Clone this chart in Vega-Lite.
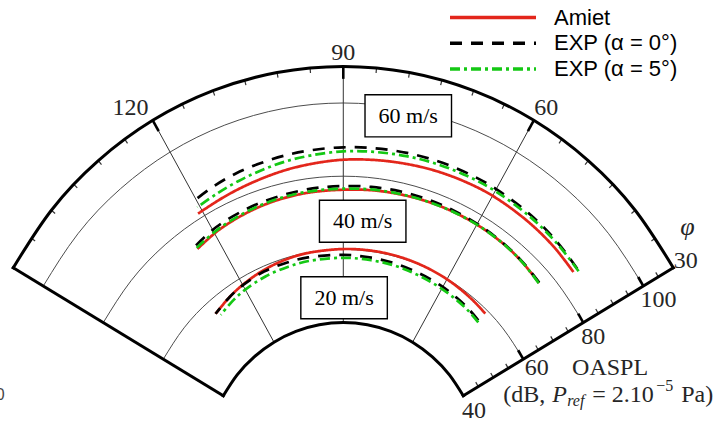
{
  "$schema": "https://vega.github.io/schema/vega-lite/v6.json",
  "width": 727,
  "height": 426,
  "autosize": {"type": "none"},
  "padding": 0,
  "background": "white",
  "config": {
    "view": {"stroke": null},
    "legend": {
      "orient": "none",
      "legendX": 448,
      "legendY": 6.5,
      "symbolType": "stroke",
      "symbolSize": 7400,
      "symbolStrokeWidth": 3.5,
      "clipHeight": 22,
      "labelFont": "Liberation Sans",
      "labelFontSize": 22,
      "labelColor": "#000000",
      "labelOffset": 16,
      "rowPadding": 3.7,
      "padding": 0,
      "labelLimit": 400
    }
  },
  "datasets": {
    "grid": [
      {"g": "r60", "kind": "ring", "phi": 30, "db": 60}, {"g": "r60", "kind": "ring", "phi": 40, "db": 60}, {"g": "r60", "kind": "ring", "phi": 50, "db": 60}, {"g": "r60", "kind": "ring", "phi": 60, "db": 60}, {"g": "r60", "kind": "ring", "phi": 70, "db": 60}, {"g": "r60", "kind": "ring", "phi": 80, "db": 60}, {"g": "r60", "kind": "ring", "phi": 90, "db": 60}, {"g": "r60", "kind": "ring", "phi": 100, "db": 60}, {"g": "r60", "kind": "ring", "phi": 110, "db": 60}, {"g": "r60", "kind": "ring", "phi": 120, "db": 60}, {"g": "r60", "kind": "ring", "phi": 130, "db": 60}, {"g": "r60", "kind": "ring", "phi": 140, "db": 60}, {"g": "r60", "kind": "ring", "phi": 150, "db": 60},
      {"g": "r80", "kind": "ring", "phi": 30, "db": 80}, {"g": "r80", "kind": "ring", "phi": 40, "db": 80}, {"g": "r80", "kind": "ring", "phi": 50, "db": 80}, {"g": "r80", "kind": "ring", "phi": 60, "db": 80}, {"g": "r80", "kind": "ring", "phi": 70, "db": 80}, {"g": "r80", "kind": "ring", "phi": 80, "db": 80}, {"g": "r80", "kind": "ring", "phi": 90, "db": 80}, {"g": "r80", "kind": "ring", "phi": 100, "db": 80}, {"g": "r80", "kind": "ring", "phi": 110, "db": 80}, {"g": "r80", "kind": "ring", "phi": 120, "db": 80}, {"g": "r80", "kind": "ring", "phi": 130, "db": 80}, {"g": "r80", "kind": "ring", "phi": 140, "db": 80}, {"g": "r80", "kind": "ring", "phi": 150, "db": 80},
      {"g": "r100", "kind": "ring", "phi": 30, "db": 100}, {"g": "r100", "kind": "ring", "phi": 40, "db": 100}, {"g": "r100", "kind": "ring", "phi": 50, "db": 100}, {"g": "r100", "kind": "ring", "phi": 60, "db": 100}, {"g": "r100", "kind": "ring", "phi": 70, "db": 100}, {"g": "r100", "kind": "ring", "phi": 80, "db": 100}, {"g": "r100", "kind": "ring", "phi": 90, "db": 100}, {"g": "r100", "kind": "ring", "phi": 100, "db": 100}, {"g": "r100", "kind": "ring", "phi": 110, "db": 100}, {"g": "r100", "kind": "ring", "phi": 120, "db": 100}, {"g": "r100", "kind": "ring", "phi": 130, "db": 100}, {"g": "r100", "kind": "ring", "phi": 140, "db": 100}, {"g": "r100", "kind": "ring", "phi": 150, "db": 100},
      {"g": "f40", "kind": "frame", "phi": 30, "db": 40}, {"g": "f40", "kind": "frame", "phi": 40, "db": 40}, {"g": "f40", "kind": "frame", "phi": 50, "db": 40}, {"g": "f40", "kind": "frame", "phi": 60, "db": 40}, {"g": "f40", "kind": "frame", "phi": 70, "db": 40}, {"g": "f40", "kind": "frame", "phi": 80, "db": 40}, {"g": "f40", "kind": "frame", "phi": 90, "db": 40}, {"g": "f40", "kind": "frame", "phi": 100, "db": 40}, {"g": "f40", "kind": "frame", "phi": 110, "db": 40}, {"g": "f40", "kind": "frame", "phi": 120, "db": 40}, {"g": "f40", "kind": "frame", "phi": 130, "db": 40}, {"g": "f40", "kind": "frame", "phi": 140, "db": 40}, {"g": "f40", "kind": "frame", "phi": 150, "db": 40},
      {"g": "f110", "kind": "frame", "phi": 30, "db": 110}, {"g": "f110", "kind": "frame", "phi": 40, "db": 110}, {"g": "f110", "kind": "frame", "phi": 50, "db": 110}, {"g": "f110", "kind": "frame", "phi": 60, "db": 110}, {"g": "f110", "kind": "frame", "phi": 70, "db": 110}, {"g": "f110", "kind": "frame", "phi": 80, "db": 110}, {"g": "f110", "kind": "frame", "phi": 90, "db": 110}, {"g": "f110", "kind": "frame", "phi": 100, "db": 110}, {"g": "f110", "kind": "frame", "phi": 110, "db": 110}, {"g": "f110", "kind": "frame", "phi": 120, "db": 110}, {"g": "f110", "kind": "frame", "phi": 130, "db": 110}, {"g": "f110", "kind": "frame", "phi": 140, "db": 110}, {"g": "f110", "kind": "frame", "phi": 150, "db": 110},
      {"g": "e30", "kind": "frame", "phi": 30, "db": 40}, {"g": "e30", "kind": "frame", "phi": 30, "db": 110},
      {"g": "e150", "kind": "frame", "phi": 150, "db": 40}, {"g": "e150", "kind": "frame", "phi": 150, "db": 110},
      {"g": "s60", "kind": "spoke", "phi": 60, "db": 40}, {"g": "s60", "kind": "spoke", "phi": 60, "db": 110},
      {"g": "s90", "kind": "spoke", "phi": 90, "db": 40}, {"g": "s90", "kind": "spoke", "phi": 90, "db": 110},
      {"g": "s120", "kind": "spoke", "phi": 120, "db": 40}, {"g": "s120", "kind": "spoke", "phi": 120, "db": 110},
      {"g": "t35", "kind": "tick", "phi": 35, "db": 110}, {"g": "t35", "kind": "tick", "phi": 35, "db": 108.6},
      {"g": "t40", "kind": "tick", "phi": 40, "db": 110}, {"g": "t40", "kind": "tick", "phi": 40, "db": 108.6},
      {"g": "t45", "kind": "tick", "phi": 45, "db": 110}, {"g": "t45", "kind": "tick", "phi": 45, "db": 108.6},
      {"g": "t50", "kind": "tick", "phi": 50, "db": 110}, {"g": "t50", "kind": "tick", "phi": 50, "db": 108.6},
      {"g": "t55", "kind": "tick", "phi": 55, "db": 110}, {"g": "t55", "kind": "tick", "phi": 55, "db": 108.6},
      {"g": "t65", "kind": "tick", "phi": 65, "db": 110}, {"g": "t65", "kind": "tick", "phi": 65, "db": 108.6},
      {"g": "t70", "kind": "tick", "phi": 70, "db": 110}, {"g": "t70", "kind": "tick", "phi": 70, "db": 108.6},
      {"g": "t75", "kind": "tick", "phi": 75, "db": 110}, {"g": "t75", "kind": "tick", "phi": 75, "db": 108.6},
      {"g": "t80", "kind": "tick", "phi": 80, "db": 110}, {"g": "t80", "kind": "tick", "phi": 80, "db": 108.6},
      {"g": "t85", "kind": "tick", "phi": 85, "db": 110}, {"g": "t85", "kind": "tick", "phi": 85, "db": 108.6},
      {"g": "t95", "kind": "tick", "phi": 95, "db": 110}, {"g": "t95", "kind": "tick", "phi": 95, "db": 108.6},
      {"g": "t100", "kind": "tick", "phi": 100, "db": 110}, {"g": "t100", "kind": "tick", "phi": 100, "db": 108.6},
      {"g": "t105", "kind": "tick", "phi": 105, "db": 110}, {"g": "t105", "kind": "tick", "phi": 105, "db": 108.6},
      {"g": "t110", "kind": "tick", "phi": 110, "db": 110}, {"g": "t110", "kind": "tick", "phi": 110, "db": 108.6},
      {"g": "t115", "kind": "tick", "phi": 115, "db": 110}, {"g": "t115", "kind": "tick", "phi": 115, "db": 108.6},
      {"g": "t125", "kind": "tick", "phi": 125, "db": 110}, {"g": "t125", "kind": "tick", "phi": 125, "db": 108.6},
      {"g": "t130", "kind": "tick", "phi": 130, "db": 110}, {"g": "t130", "kind": "tick", "phi": 130, "db": 108.6},
      {"g": "t135", "kind": "tick", "phi": 135, "db": 110}, {"g": "t135", "kind": "tick", "phi": 135, "db": 108.6},
      {"g": "t140", "kind": "tick", "phi": 140, "db": 110}, {"g": "t140", "kind": "tick", "phi": 140, "db": 108.6},
      {"g": "t145", "kind": "tick", "phi": 145, "db": 110}, {"g": "t145", "kind": "tick", "phi": 145, "db": 108.6},
      {"g": "m60", "kind": "mtick", "phi": 60, "db": 110}, {"g": "m60", "kind": "mtick", "phi": 60, "db": 106.6},
      {"g": "m90", "kind": "mtick", "phi": 90, "db": 110}, {"g": "m90", "kind": "mtick", "phi": 90, "db": 106.6},
      {"g": "m120", "kind": "mtick", "phi": 120, "db": 110}, {"g": "m120", "kind": "mtick", "phi": 120, "db": 106.6},
      {"g": "d45", "kind": "tick", "phi": 30, "db": 45}, {"g": "d45", "kind": "tick", "phi": 31.82, "db": 45},
      {"g": "d50", "kind": "tick", "phi": 30, "db": 50}, {"g": "d50", "kind": "tick", "phi": 31.64, "db": 50},
      {"g": "d55", "kind": "tick", "phi": 30, "db": 55}, {"g": "d55", "kind": "tick", "phi": 31.49, "db": 55},
      {"g": "d65", "kind": "tick", "phi": 30, "db": 65}, {"g": "d65", "kind": "tick", "phi": 31.26, "db": 65},
      {"g": "d70", "kind": "tick", "phi": 30, "db": 70}, {"g": "d70", "kind": "tick", "phi": 31.17, "db": 70},
      {"g": "d75", "kind": "tick", "phi": 30, "db": 75}, {"g": "d75", "kind": "tick", "phi": 31.09, "db": 75},
      {"g": "d85", "kind": "tick", "phi": 30, "db": 85}, {"g": "d85", "kind": "tick", "phi": 30.96, "db": 85},
      {"g": "d90", "kind": "tick", "phi": 30, "db": 90}, {"g": "d90", "kind": "tick", "phi": 30.91, "db": 90},
      {"g": "d95", "kind": "tick", "phi": 30, "db": 95}, {"g": "d95", "kind": "tick", "phi": 30.86, "db": 95},
      {"g": "d105", "kind": "tick", "phi": 30, "db": 105}, {"g": "d105", "kind": "tick", "phi": 30.78, "db": 105},
      {"g": "D60", "kind": "mtick", "phi": 30, "db": 60}, {"g": "D60", "kind": "mtick", "phi": 32.73, "db": 60},
      {"g": "D80", "kind": "mtick", "phi": 30, "db": 80}, {"g": "D80", "kind": "mtick", "phi": 32.05, "db": 80},
      {"g": "D100", "kind": "mtick", "phi": 30, "db": 100}, {"g": "D100", "kind": "mtick", "phi": 31.64, "db": 100}
    ],
    "curves": [
      {"series": "Amiet", "speed": 60, "phi": 121, "db": 81.4}, {"series": "Amiet", "speed": 60, "phi": 115, "db": 81.9}, {"series": "Amiet", "speed": 60, "phi": 109, "db": 82.5}, {"series": "Amiet", "speed": 60, "phi": 102, "db": 83.3}, {"series": "Amiet", "speed": 60, "phi": 96, "db": 83.9}, {"series": "Amiet", "speed": 60, "phi": 90, "db": 84.5}, {"series": "Amiet", "speed": 60, "phi": 84, "db": 84.9}, {"series": "Amiet", "speed": 60, "phi": 78, "db": 85.3}, {"series": "Amiet", "speed": 60, "phi": 72, "db": 85.7}, {"series": "Amiet", "speed": 60, "phi": 66, "db": 86.0}, {"series": "Amiet", "speed": 60, "phi": 60, "db": 86.2}, {"series": "Amiet", "speed": 60, "phi": 52, "db": 86.1}, {"series": "Amiet", "speed": 60, "phi": 45, "db": 85.9}, {"series": "Amiet", "speed": 60, "phi": 39, "db": 85.5},
      {"series": "Amiet", "speed": 40, "phi": 125, "db": 73.4}, {"series": "Amiet", "speed": 40, "phi": 119, "db": 74.5}, {"series": "Amiet", "speed": 40, "phi": 112, "db": 75.3}, {"series": "Amiet", "speed": 40, "phi": 106, "db": 75.8}, {"series": "Amiet", "speed": 40, "phi": 100, "db": 76.1}, {"series": "Amiet", "speed": 40, "phi": 95, "db": 76.2}, {"series": "Amiet", "speed": 40, "phi": 90, "db": 76.3}, {"series": "Amiet", "speed": 40, "phi": 84, "db": 76.6}, {"series": "Amiet", "speed": 40, "phi": 78, "db": 76.8}, {"series": "Amiet", "speed": 40, "phi": 72, "db": 77.0}, {"series": "Amiet", "speed": 40, "phi": 66, "db": 77.1}, {"series": "Amiet", "speed": 40, "phi": 59, "db": 77.1}, {"series": "Amiet", "speed": 40, "phi": 52, "db": 76.9}, {"series": "Amiet", "speed": 40, "phi": 47, "db": 76.5}, {"series": "Amiet", "speed": 40, "phi": 42, "db": 76.0},
      {"series": "Amiet", "speed": 20, "phi": 131, "db": 56.2}, {"series": "Amiet", "speed": 20, "phi": 125, "db": 57.3}, {"series": "Amiet", "speed": 20, "phi": 120, "db": 58.1}, {"series": "Amiet", "speed": 20, "phi": 113, "db": 59.0}, {"series": "Amiet", "speed": 20, "phi": 106, "db": 59.6}, {"series": "Amiet", "speed": 20, "phi": 100, "db": 59.9}, {"series": "Amiet", "speed": 20, "phi": 90, "db": 60.1}, {"series": "Amiet", "speed": 20, "phi": 82, "db": 60.2}, {"series": "Amiet", "speed": 20, "phi": 75, "db": 60.2}, {"series": "Amiet", "speed": 20, "phi": 68, "db": 60.1}, {"series": "Amiet", "speed": 20, "phi": 61, "db": 59.9}, {"series": "Amiet", "speed": 20, "phi": 55, "db": 59.6}, {"series": "Amiet", "speed": 20, "phi": 50, "db": 59.3}, {"series": "Amiet", "speed": 20, "phi": 46, "db": 59.0},
      {"series": "EXP (α = 0°)", "speed": 60, "phi": 120.5, "db": 85.0}, {"series": "EXP (α = 0°)", "speed": 60, "phi": 116, "db": 85.8}, {"series": "EXP (α = 0°)", "speed": 60, "phi": 111, "db": 86.5}, {"series": "EXP (α = 0°)", "speed": 60, "phi": 106, "db": 86.9}, {"series": "EXP (α = 0°)", "speed": 60, "phi": 101, "db": 87.3}, {"series": "EXP (α = 0°)", "speed": 60, "phi": 96, "db": 87.6}, {"series": "EXP (α = 0°)", "speed": 60, "phi": 90, "db": 87.9}, {"series": "EXP (α = 0°)", "speed": 60, "phi": 84, "db": 88.1}, {"series": "EXP (α = 0°)", "speed": 60, "phi": 78, "db": 88.3}, {"series": "EXP (α = 0°)", "speed": 60, "phi": 72, "db": 88.4}, {"series": "EXP (α = 0°)", "speed": 60, "phi": 66, "db": 88.4}, {"series": "EXP (α = 0°)", "speed": 60, "phi": 60, "db": 88.3}, {"series": "EXP (α = 0°)", "speed": 60, "phi": 52, "db": 88.0}, {"series": "EXP (α = 0°)", "speed": 60, "phi": 45, "db": 87.5}, {"series": "EXP (α = 0°)", "speed": 60, "phi": 39, "db": 86.9},
      {"series": "EXP (α = 0°)", "speed": 40, "phi": 125.5, "db": 74.3}, {"series": "EXP (α = 0°)", "speed": 40, "phi": 119, "db": 75.6}, {"series": "EXP (α = 0°)", "speed": 40, "phi": 112, "db": 76.3}, {"series": "EXP (α = 0°)", "speed": 40, "phi": 106, "db": 76.7}, {"series": "EXP (α = 0°)", "speed": 40, "phi": 100, "db": 77.0}, {"series": "EXP (α = 0°)", "speed": 40, "phi": 95, "db": 77.2}, {"series": "EXP (α = 0°)", "speed": 40, "phi": 90, "db": 77.3}, {"series": "EXP (α = 0°)", "speed": 40, "phi": 84, "db": 77.5}, {"series": "EXP (α = 0°)", "speed": 40, "phi": 78, "db": 77.6}, {"series": "EXP (α = 0°)", "speed": 40, "phi": 72, "db": 77.6}, {"series": "EXP (α = 0°)", "speed": 40, "phi": 66, "db": 77.5}, {"series": "EXP (α = 0°)", "speed": 40, "phi": 59, "db": 77.3}, {"series": "EXP (α = 0°)", "speed": 40, "phi": 52, "db": 77.0}, {"series": "EXP (α = 0°)", "speed": 40, "phi": 47, "db": 76.6}, {"series": "EXP (α = 0°)", "speed": 40, "phi": 42, "db": 76.1},
      {"series": "EXP (α = 0°)", "speed": 20, "phi": 131, "db": 56.2}, {"series": "EXP (α = 0°)", "speed": 20, "phi": 125, "db": 57.3}, {"series": "EXP (α = 0°)", "speed": 20, "phi": 120, "db": 58.0}, {"series": "EXP (α = 0°)", "speed": 20, "phi": 113, "db": 58.6}, {"series": "EXP (α = 0°)", "speed": 20, "phi": 106, "db": 58.7}, {"series": "EXP (α = 0°)", "speed": 20, "phi": 100, "db": 58.7}, {"series": "EXP (α = 0°)", "speed": 20, "phi": 90, "db": 58.5}, {"series": "EXP (α = 0°)", "speed": 20, "phi": 82, "db": 58.3}, {"series": "EXP (α = 0°)", "speed": 20, "phi": 75, "db": 58.1}, {"series": "EXP (α = 0°)", "speed": 20, "phi": 68, "db": 57.8}, {"series": "EXP (α = 0°)", "speed": 20, "phi": 61, "db": 57.5}, {"series": "EXP (α = 0°)", "speed": 20, "phi": 55, "db": 57.1}, {"series": "EXP (α = 0°)", "speed": 20, "phi": 50, "db": 56.7}, {"series": "EXP (α = 0°)", "speed": 20, "phi": 46.2, "db": 56.3},
      {"series": "EXP (α = 5°)", "speed": 60, "phi": 120.5, "db": 83.0}, {"series": "EXP (α = 5°)", "speed": 60, "phi": 116, "db": 83.6}, {"series": "EXP (α = 5°)", "speed": 60, "phi": 111, "db": 84.3}, {"series": "EXP (α = 5°)", "speed": 60, "phi": 106, "db": 85.0}, {"series": "EXP (α = 5°)", "speed": 60, "phi": 101, "db": 85.7}, {"series": "EXP (α = 5°)", "speed": 60, "phi": 96, "db": 86.2}, {"series": "EXP (α = 5°)", "speed": 60, "phi": 90, "db": 86.8}, {"series": "EXP (α = 5°)", "speed": 60, "phi": 84, "db": 87.1}, {"series": "EXP (α = 5°)", "speed": 60, "phi": 78, "db": 87.4}, {"series": "EXP (α = 5°)", "speed": 60, "phi": 72, "db": 87.6}, {"series": "EXP (α = 5°)", "speed": 60, "phi": 66, "db": 87.7}, {"series": "EXP (α = 5°)", "speed": 60, "phi": 60, "db": 87.7}, {"series": "EXP (α = 5°)", "speed": 60, "phi": 52, "db": 87.5}, {"series": "EXP (α = 5°)", "speed": 60, "phi": 45, "db": 87.2}, {"series": "EXP (α = 5°)", "speed": 60, "phi": 38.5, "db": 86.8},
      {"series": "EXP (α = 5°)", "speed": 40, "phi": 125.5, "db": 73.7}, {"series": "EXP (α = 5°)", "speed": 40, "phi": 119, "db": 74.8}, {"series": "EXP (α = 5°)", "speed": 40, "phi": 112, "db": 75.6}, {"series": "EXP (α = 5°)", "speed": 40, "phi": 106, "db": 76.1}, {"series": "EXP (α = 5°)", "speed": 40, "phi": 100, "db": 76.4}, {"series": "EXP (α = 5°)", "speed": 40, "phi": 95, "db": 76.5}, {"series": "EXP (α = 5°)", "speed": 40, "phi": 90, "db": 76.6}, {"series": "EXP (α = 5°)", "speed": 40, "phi": 84, "db": 76.8}, {"series": "EXP (α = 5°)", "speed": 40, "phi": 78, "db": 76.9}, {"series": "EXP (α = 5°)", "speed": 40, "phi": 72, "db": 77.0}, {"series": "EXP (α = 5°)", "speed": 40, "phi": 66, "db": 77.1}, {"series": "EXP (α = 5°)", "speed": 40, "phi": 59, "db": 77.1}, {"series": "EXP (α = 5°)", "speed": 40, "phi": 52, "db": 76.9}, {"series": "EXP (α = 5°)", "speed": 40, "phi": 47, "db": 76.5}, {"series": "EXP (α = 5°)", "speed": 40, "phi": 42, "db": 75.9},
      {"series": "EXP (α = 5°)", "speed": 20, "phi": 130, "db": 55.0}, {"series": "EXP (α = 5°)", "speed": 20, "phi": 125, "db": 55.9}, {"series": "EXP (α = 5°)", "speed": 20, "phi": 120, "db": 56.6}, {"series": "EXP (α = 5°)", "speed": 20, "phi": 113, "db": 57.2}, {"series": "EXP (α = 5°)", "speed": 20, "phi": 106, "db": 57.5}, {"series": "EXP (α = 5°)", "speed": 20, "phi": 100, "db": 57.7}, {"series": "EXP (α = 5°)", "speed": 20, "phi": 90, "db": 57.7}, {"series": "EXP (α = 5°)", "speed": 20, "phi": 82, "db": 57.6}, {"series": "EXP (α = 5°)", "speed": 20, "phi": 75, "db": 57.5}, {"series": "EXP (α = 5°)", "speed": 20, "phi": 68, "db": 57.2}, {"series": "EXP (α = 5°)", "speed": 20, "phi": 61, "db": 56.9}, {"series": "EXP (α = 5°)", "speed": 20, "phi": 55, "db": 56.6}, {"series": "EXP (α = 5°)", "speed": 20, "phi": 50, "db": 56.3}, {"series": "EXP (α = 5°)", "speed": 20, "phi": 45.8, "db": 55.9}
    ],
    "labels": [
      {"label": "90", "phi": 90, "db": 113.7},
      {"label": "120", "phi": 121.9, "db": 116.2},
      {"label": "60", "phi": 59.3, "db": 114.7},
      {"label": "30", "phi": 29.9, "db": 114.0},
      {"label": "100", "phi": 26.9, "db": 102.0},
      {"label": "80", "phi": 26.6, "db": 80.7},
      {"label": "60", "phi": 26.3, "db": 62.3},
      {"label": "40", "phi": 22.6, "db": 40.9},
      {"label": "OASPL", "phi": 19.7, "db": 81.8}
    ],
    "boxes": [
      {"label": "60 m/s", "phi": 79.0, "db": 98.3},
      {"label": "40 m/s", "phi": 85.27, "db": 67.93},
      {"label": "20 m/s", "phi": 89.72, "db": 46.78}
    ],
    "unit": [{"phi": 23.65, "db": 50.4}],
    "varphi": [{"label": "φ", "phi": 33.7, "db": 119.4}],
    "stray": [{"label": "0", "phi": 168.5, "db": 101.1}]
  },
  "encoding": {
    "x": {"field": "x", "type": "quantitative", "scale": {"domain": [-99.10, 110.77], "nice": false, "zero": false}, "axis": null},
    "y": {"field": "y", "type": "quantitative", "scale": {"domain": [11.75, 128.14], "nice": false, "zero": false}, "axis": null}
  },
  "layer": [
    {
      "data": {"name": "grid"},
      "transform": [
        {"filter": "datum.kind === 'ring'"},
        {"calculate": "datum.db * cos(datum.phi * PI / 180)", "as": "x"},
        {"calculate": "datum.db * sin(datum.phi * PI / 180)", "as": "y"}
      ],
      "mark": {"type": "line", "stroke": "#4d4d4d", "strokeWidth": 1, "interpolate": "natural"},
      "encoding": {"detail": {"field": "g"}, "order": {"field": "phi", "type": "quantitative"}}
    },
    {
      "data": {"name": "grid"},
      "transform": [
        {"filter": "datum.kind === 'spoke'"},
        {"calculate": "datum.db * cos(datum.phi * PI / 180)", "as": "x"},
        {"calculate": "datum.db * sin(datum.phi * PI / 180)", "as": "y"}
      ],
      "mark": {"type": "line", "stroke": "#333333", "strokeWidth": 1},
      "encoding": {"detail": {"field": "g"}, "order": {"field": "db", "type": "quantitative"}}
    },
    {
      "data": {"name": "grid"},
      "transform": [
        {"filter": "datum.kind === 'tick'"},
        {"calculate": "datum.db * cos(datum.phi * PI / 180)", "as": "x"},
        {"calculate": "datum.db * sin(datum.phi * PI / 180)", "as": "y"}
      ],
      "mark": {"type": "line", "stroke": "#333333", "strokeWidth": 1.2},
      "encoding": {"detail": {"field": "g"}}
    },
    {
      "data": {"name": "grid"},
      "transform": [
        {"filter": "datum.kind === 'mtick'"},
        {"calculate": "datum.db * cos(datum.phi * PI / 180)", "as": "x"},
        {"calculate": "datum.db * sin(datum.phi * PI / 180)", "as": "y"}
      ],
      "mark": {"type": "line", "stroke": "#000000", "strokeWidth": 2.6},
      "encoding": {"detail": {"field": "g"}}
    },
    {
      "data": {"name": "curves"},
      "transform": [
        {"calculate": "datum.db * cos(datum.phi * PI / 180)", "as": "x"},
        {"calculate": "datum.db * sin(datum.phi * PI / 180)", "as": "y"}
      ],
      "mark": {"type": "line", "strokeWidth": 2.7, "interpolate": "catmull-rom"},
      "encoding": {
        "color": {"field": "series", "type": "nominal", "scale": {"domain": ["Amiet", "EXP (α = 0°)", "EXP (α = 5°)"], "range": ["#e3261b", "#000000", "#14c814"]}, "legend": {"title": null}},
        "strokeDash": {"field": "series", "type": "nominal", "scale": {"domain": ["Amiet", "EXP (α = 0°)", "EXP (α = 5°)"], "range": [[1, 0], [12, 9], [10, 4, 3, 4]]}, "legend": {"title": null}},
        "detail": {"field": "speed"},
        "order": {"field": "phi", "type": "quantitative"}
      }
    },
    {
      "data": {"name": "grid"},
      "transform": [
        {"filter": "datum.kind === 'frame'"},
        {"calculate": "datum.db * cos(datum.phi * PI / 180)", "as": "x"},
        {"calculate": "datum.db * sin(datum.phi * PI / 180)", "as": "y"}
      ],
      "mark": {"type": "line", "stroke": "#000000", "strokeWidth": 3, "strokeCap": "square", "interpolate": "natural"},
      "encoding": {"detail": {"field": "g"}, "order": {"field": "phi", "type": "quantitative"}}
    },
    {
      "data": {"name": "boxes"},
      "transform": [
        {"calculate": "datum.db * cos(datum.phi * PI / 180)", "as": "x"},
        {"calculate": "datum.db * sin(datum.phi * PI / 180)", "as": "y"}
      ],
      "mark": {"type": "point", "shape": "M-1,-0.486L1,-0.486L1,0.486L-1,0.486Z", "size": 7482, "filled": true, "fill": "#ffffff", "stroke": "#000000", "strokeWidth": 1.4, "opacity": 1}
    },
    {
      "data": {"name": "boxes"},
      "transform": [
        {"calculate": "datum.db * cos(datum.phi * PI / 180)", "as": "x"},
        {"calculate": "datum.db * sin(datum.phi * PI / 180)", "as": "y"}
      ],
      "mark": {"type": "text", "font": "Liberation Serif", "fontSize": 22, "color": "#000000", "align": "center", "baseline": "middle"},
      "encoding": {"text": {"field": "label"}}
    },
    {
      "data": {"name": "labels"},
      "transform": [
        {"calculate": "datum.db * cos(datum.phi * PI / 180)", "as": "x"},
        {"calculate": "datum.db * sin(datum.phi * PI / 180)", "as": "y"}
      ],
      "mark": {"type": "text", "font": "Liberation Serif", "fontSize": 24, "color": "#262626", "align": "center", "baseline": "middle"},
      "encoding": {"text": {"field": "label"}}
    },
    {
      "data": {"name": "varphi"},
      "transform": [
        {"calculate": "datum.db * cos(datum.phi * PI / 180)", "as": "x"},
        {"calculate": "datum.db * sin(datum.phi * PI / 180)", "as": "y"}
      ],
      "mark": {"type": "text", "font": "Liberation Serif", "fontSize": 26, "fontStyle": "italic", "color": "#262626", "align": "center", "baseline": "middle"},
      "encoding": {"text": {"field": "label"}}
    },
    {
      "data": {"name": "unit"},
      "transform": [
        {"calculate": "datum.db * cos(datum.phi * PI / 180)", "as": "x"},
        {"calculate": "datum.db * sin(datum.phi * PI / 180)", "as": "y"}
      ],
      "mark": {"type": "text", "text": "(dB,", "font": "Liberation Serif", "fontSize": 24, "color": "#262626", "align": "left", "baseline": "middle"}
    },
    {
      "data": {"name": "unit"},
      "transform": [
        {"calculate": "datum.db * cos(datum.phi * PI / 180)", "as": "x"},
        {"calculate": "datum.db * sin(datum.phi * PI / 180)", "as": "y"}
      ],
      "mark": {"type": "text", "text": "P", "dx": 49, "font": "Liberation Serif", "fontStyle": "italic", "fontSize": 24, "color": "#262626", "align": "left", "baseline": "middle"}
    },
    {
      "data": {"name": "unit"},
      "transform": [
        {"calculate": "datum.db * cos(datum.phi * PI / 180)", "as": "x"},
        {"calculate": "datum.db * sin(datum.phi * PI / 180)", "as": "y"}
      ],
      "mark": {"type": "text", "text": "ref", "dx": 64, "dy": 6, "font": "Liberation Serif", "fontStyle": "italic", "fontSize": 16, "color": "#262626", "align": "left", "baseline": "middle"}
    },
    {
      "data": {"name": "unit"},
      "transform": [
        {"calculate": "datum.db * cos(datum.phi * PI / 180)", "as": "x"},
        {"calculate": "datum.db * sin(datum.phi * PI / 180)", "as": "y"}
      ],
      "mark": {"type": "text", "text": "= 2.10", "dx": 89, "font": "Liberation Serif", "fontSize": 24, "color": "#262626", "align": "left", "baseline": "middle"}
    },
    {
      "data": {"name": "unit"},
      "transform": [
        {"calculate": "datum.db * cos(datum.phi * PI / 180)", "as": "x"},
        {"calculate": "datum.db * sin(datum.phi * PI / 180)", "as": "y"}
      ],
      "mark": {"type": "text", "text": "−5", "dx": 153, "dy": -9, "font": "Liberation Serif", "fontSize": 16, "color": "#262626", "align": "left", "baseline": "middle"}
    },
    {
      "data": {"name": "unit"},
      "transform": [
        {"calculate": "datum.db * cos(datum.phi * PI / 180)", "as": "x"},
        {"calculate": "datum.db * sin(datum.phi * PI / 180)", "as": "y"}
      ],
      "mark": {"type": "text", "text": "Pa)", "dx": 178, "font": "Liberation Serif", "fontSize": 24, "color": "#262626", "align": "left", "baseline": "middle"}
    },
    {
      "data": {"name": "stray"},
      "transform": [
        {"calculate": "datum.db * cos(datum.phi * PI / 180)", "as": "x"},
        {"calculate": "datum.db * sin(datum.phi * PI / 180)", "as": "y"}
      ],
      "mark": {"type": "text", "font": "Liberation Sans", "fontSize": 16, "color": "#444444", "align": "center", "baseline": "middle"},
      "encoding": {"text": {"field": "label"}}
    }
  ]
}
